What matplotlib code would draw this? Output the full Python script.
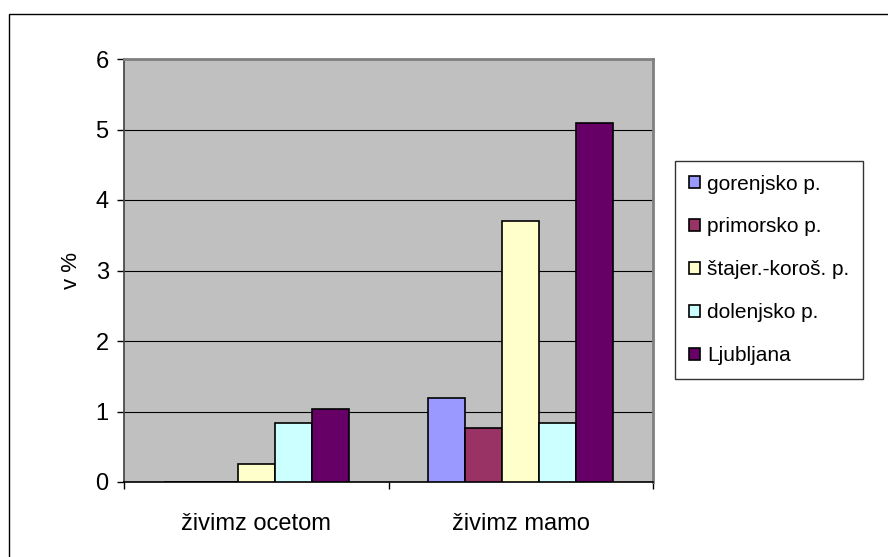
import numpy as np
import matplotlib
matplotlib.rcParams["font.family"] = ["Liberation Sans", "DejaVu Sans"]
import matplotlib.pyplot as plt
from matplotlib.patches import Rectangle

categories = ["živimz ocetom", "živimz mamo"]
series = ["gorenjsko p.", "primorsko p.", "štajer.-koroš. p.", "dolenjsko p.", "Ljubljana"]
values = {
    "gorenjsko p.": [0.0, 1.19],
    "primorsko p.": [0.0, 0.77],
    "štajer.-koroš. p.": [0.26, 3.70],
    "dolenjsko p.": [0.84, 0.84],
    "Ljubljana": [1.03, 5.09],
}
colors = ["#9999ff", "#993366", "#ffffcc", "#ccffff", "#660066"]
yticks = [0, 1, 2, 3, 4, 5, 6]

fig = plt.figure(figsize=(8.88, 5.57), dpi=100)
# outer chart border (only top and left visible in the original)
fig.patches.append(Rectangle((9 / 888, -0.1), 1.2, 1 - 14 / 557 + 0.1,
                             transform=fig.transFigure, fill=False,
                             edgecolor="black", lw=1.0))

ax = fig.add_axes([124 / 888, 75 / 557, (653 - 124) / 888, (482 - 59) / 557])
ax.set_facecolor("#c0c0c0")

n = len(series)
bw = 0.14
x = np.arange(len(categories))
for i, (name, c) in enumerate(zip(series, colors)):
    offs = (i - (n - 1) / 2) * bw
    vals = values[name]
    ax.bar(x + offs, vals, width=bw, color=c, edgecolor="black", lw=1.2,
           label=name, zorder=3)

ax.set_xlim(-0.5, 1.5)
ax.set_ylim(0, 6)
ax.set_yticks(yticks)
ax.set_yticklabels([str(t) for t in yticks], fontsize=17)
ax.yaxis.grid(True, color="black", lw=0.8, zorder=1)
ax.set_axisbelow(True)
ax.set_xticks(x)
ax.set_xticklabels(categories, fontsize=17)
ax.tick_params(axis="x", length=0, pad=22)
ax.set_xticks([-0.5, 0.5, 1.5], minor=True)
ax.tick_params(axis="x", which="minor", length=5, width=1, color="black")
ax.tick_params(axis="y", length=5, width=1, color="black", pad=6)
ax.set_ylabel("v %", fontsize=16, labelpad=10)

for s in ["top", "right"]:
    ax.spines[s].set_color("#808080")
    ax.spines[s].set_linewidth(2)
ax.spines["left"].set_color("#404040")
ax.spines["left"].set_linewidth(1.2)
ax.spines["bottom"].set_color("black")
ax.spines["bottom"].set_linewidth(1.2)

leg = fig.legend(loc="upper left", bbox_to_anchor=(675 / 888, 1 - 161 / 557),
                 fontsize=15, frameon=True, fancybox=False, edgecolor="black",
                 handlelength=0.55, handleheight=0.55, handletextpad=0.35,
                 labelspacing=1.15, borderpad=0.65, borderaxespad=0)
leg.get_frame().set_linewidth(1.0)

fig.savefig("out.png", dpi=100)
